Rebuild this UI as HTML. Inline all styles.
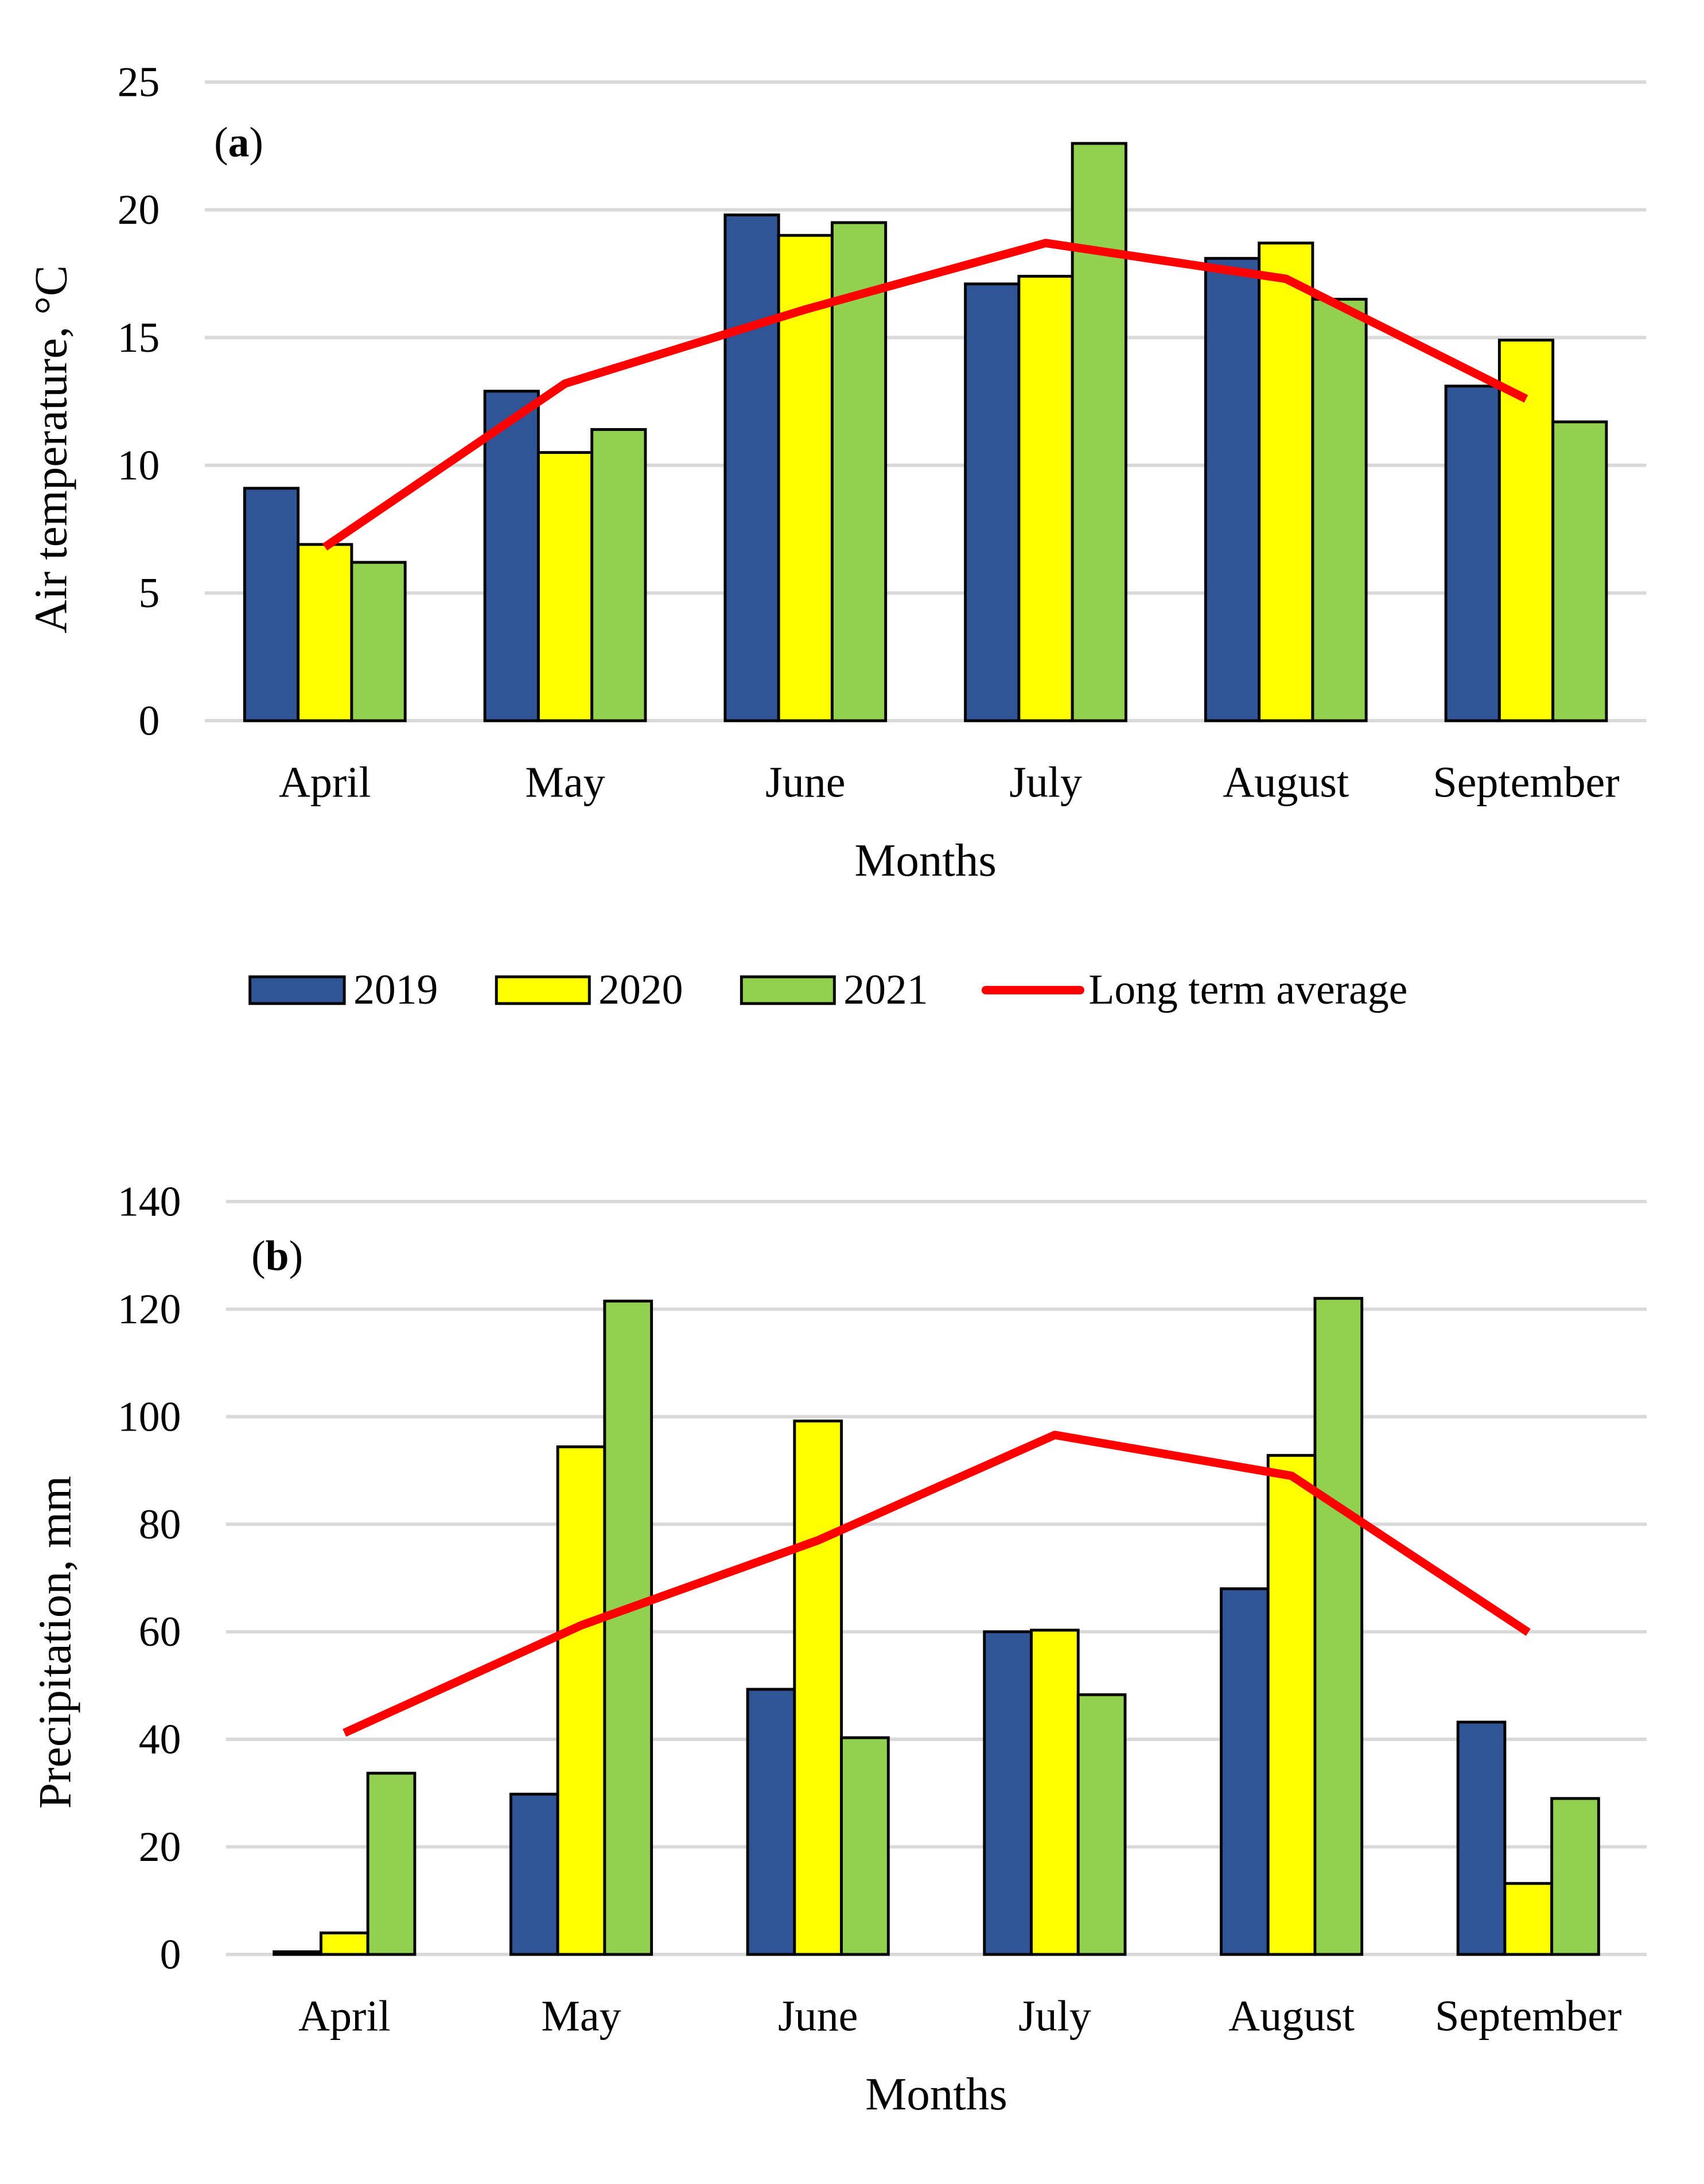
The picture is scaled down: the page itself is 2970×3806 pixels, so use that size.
<!DOCTYPE html>
<html><head><meta charset="utf-8"><style>
html,body{margin:0;padding:0;background:#fff;}
svg{display:block;}
text{font-family:"Liberation Serif",serif;fill:#000;}
</style></head><body>
<svg id="svg" width="2970" height="3806" viewBox="0 0 1210 1550.6" preserveAspectRatio="none" xmlns="http://www.w3.org/2000/svg">
<rect width="1210" height="1550.6" fill="#fff"/>
<g id="chartA"></g>
<g id="legend">
  <rect x="177.5" y="693.5" width="67" height="19" fill="#2f5597" stroke="#000" stroke-width="2"/>
  <text x="251" y="712.5" font-size="30">2019</text>
  <rect x="352.5" y="693.5" width="66" height="19" fill="#ffff00" stroke="#000" stroke-width="2"/>
  <text x="425" y="712.5" font-size="30">2020</text>
  <rect x="526.5" y="693.5" width="66" height="19" fill="#92d050" stroke="#000" stroke-width="2"/>
  <text x="599" y="712.5" font-size="30">2021</text>
  <line x1="700" y1="703" x2="767" y2="703" stroke="#ff0000" stroke-width="6" stroke-linecap="round"/>
  <text x="773" y="712.5" font-size="30">Long term average</text>
</g>
<g id="chartB"></g>
</svg>
<script>
const months = ["April","May","June","July","August","September"];
const tempTicks = [0,5,10,15,20,25];
const temp2019 = [9.1,12.9,19.8,17.1,18.1,13.1];
const temp2020 = [6.9,10.5,19.0,17.4,18.7,14.9];
const temp2021 = [6.2,11.4,19.5,22.6,16.5,11.7];
const tempAvg = [6.8,13.2,16.1,18.7,17.3,12.6];
const precTicks = [0,20,40,60,80,100,120,140];
const prec2019 = [0.5,29.8,49.3,60.0,68.0,43.2];
const prec2020 = [4.0,94.4,99.2,60.3,92.8,13.2];
const prec2021 = [33.7,121.5,40.3,48.3,122.0,29.0];
const precAvg = [41.2,61.2,77.0,96.6,89.0,59.9];

const NS="http://www.w3.org/2000/svg";
function mk(parent, tag, attrs, txt){
  const e=document.createElementNS(NS,tag);
  for(const k in attrs) e.setAttribute(k,attrs[k]);
  if(txt!==undefined) e.textContent=txt;
  parent.appendChild(e); return e;
}
function chart(g, cfg){
  const y=v=>cfg.y0-(v-cfg.ticks[0])/(cfg.ticks[cfg.ticks.length-1]-cfg.ticks[0])*(cfg.y0-cfg.yTop);
  const step=(cfg.xR-cfg.xL)/months.length;
  const xc=i=>cfg.xL+step*(i+0.5);
  cfg.ticks.forEach(t=>{
    const l=mk(g,'line',{x1:cfg.xL,x2:cfg.xR,y1:y(t),y2:y(t),stroke:'#d9d9d9','stroke-width':2.4});
    
    
    const tx=mk(g,'text',{x:cfg.xL-32,y:y(t)+10,'font-size':30,'text-anchor':'end'},t);
    
    
  });
  const series=[[cfg.s1,'#2f5597'],[cfg.s2,'#ffff00'],[cfg.s3,'#92d050']];
  series.forEach((s,j)=>{
    s[0].forEach((v,i)=>{
      const x=xc(i)-1.5*cfg.bw+j*cfg.bw;
      const r=mk(g,'rect',{x:x,y:y(v),width:cfg.bw,height:y(0)-y(v),fill:s[1],stroke:'#000','stroke-width':2});
      
      
    });
  });
  const pts=cfg.avg.map((v,i)=>xc(i)+','+y(v)).join(' ');
  const pl=mk(g,'polyline',{points:pts,fill:'none',stroke:'#ff0000','stroke-width':6,'stroke-linejoin':'round'});
  
  
  months.forEach((m,i)=>{
    const t=mk(g,'text',{x:xc(i),y:cfg.y0+54,'font-size':31,'text-anchor':'middle'},m);
    
    
  });
  const xt=mk(g,'text',{x:(cfg.xL+cfg.xR)/2,y:cfg.y0+110,'font-size':33,'text-anchor':'middle'},'Months');
  
  
  const yt=mk(g,'text',{x:0,y:0,'font-size':33,'text-anchor':'middle',transform:'translate('+cfg.ytX+','+cfg.ytY+') rotate(-90)'},cfg.ytitle);
  
  
  const pn=mk(g,'text',{x:cfg.pX,y:cfg.pY,'font-size':30});
  
  
  mk(pn,'tspan',{},'(');
  mk(pn,'tspan',{'font-weight':'bold'},cfg.panel);
  mk(pn,'tspan',{},')');
}
chart(document.getElementById('chartA'),{ticks:tempTicks,y0:511.7,yTop:58.3,xL:145.4,xR:1169,bw:38,
  s1:temp2019,s2:temp2020,s3:temp2021,avg:tempAvg,years:['2019','2020','2021'],
  ytitle:'Air temperature, °C',ytX:47,ytY:319,panel:'a',pX:152,pY:111});
chart(document.getElementById('chartB'),{ticks:precTicks,y0:1387.6,yTop:853.1,xL:160.5,xR:1169.3,bw:33.3,
  s1:prec2019,s2:prec2020,s3:prec2021,avg:precAvg,years:['2019','2020','2021'],
  ytitle:'Precipitation, mm',ytX:50,ytY:1166,panel:'b',pX:178.5,pY:901.6});
</script>
</body></html>
